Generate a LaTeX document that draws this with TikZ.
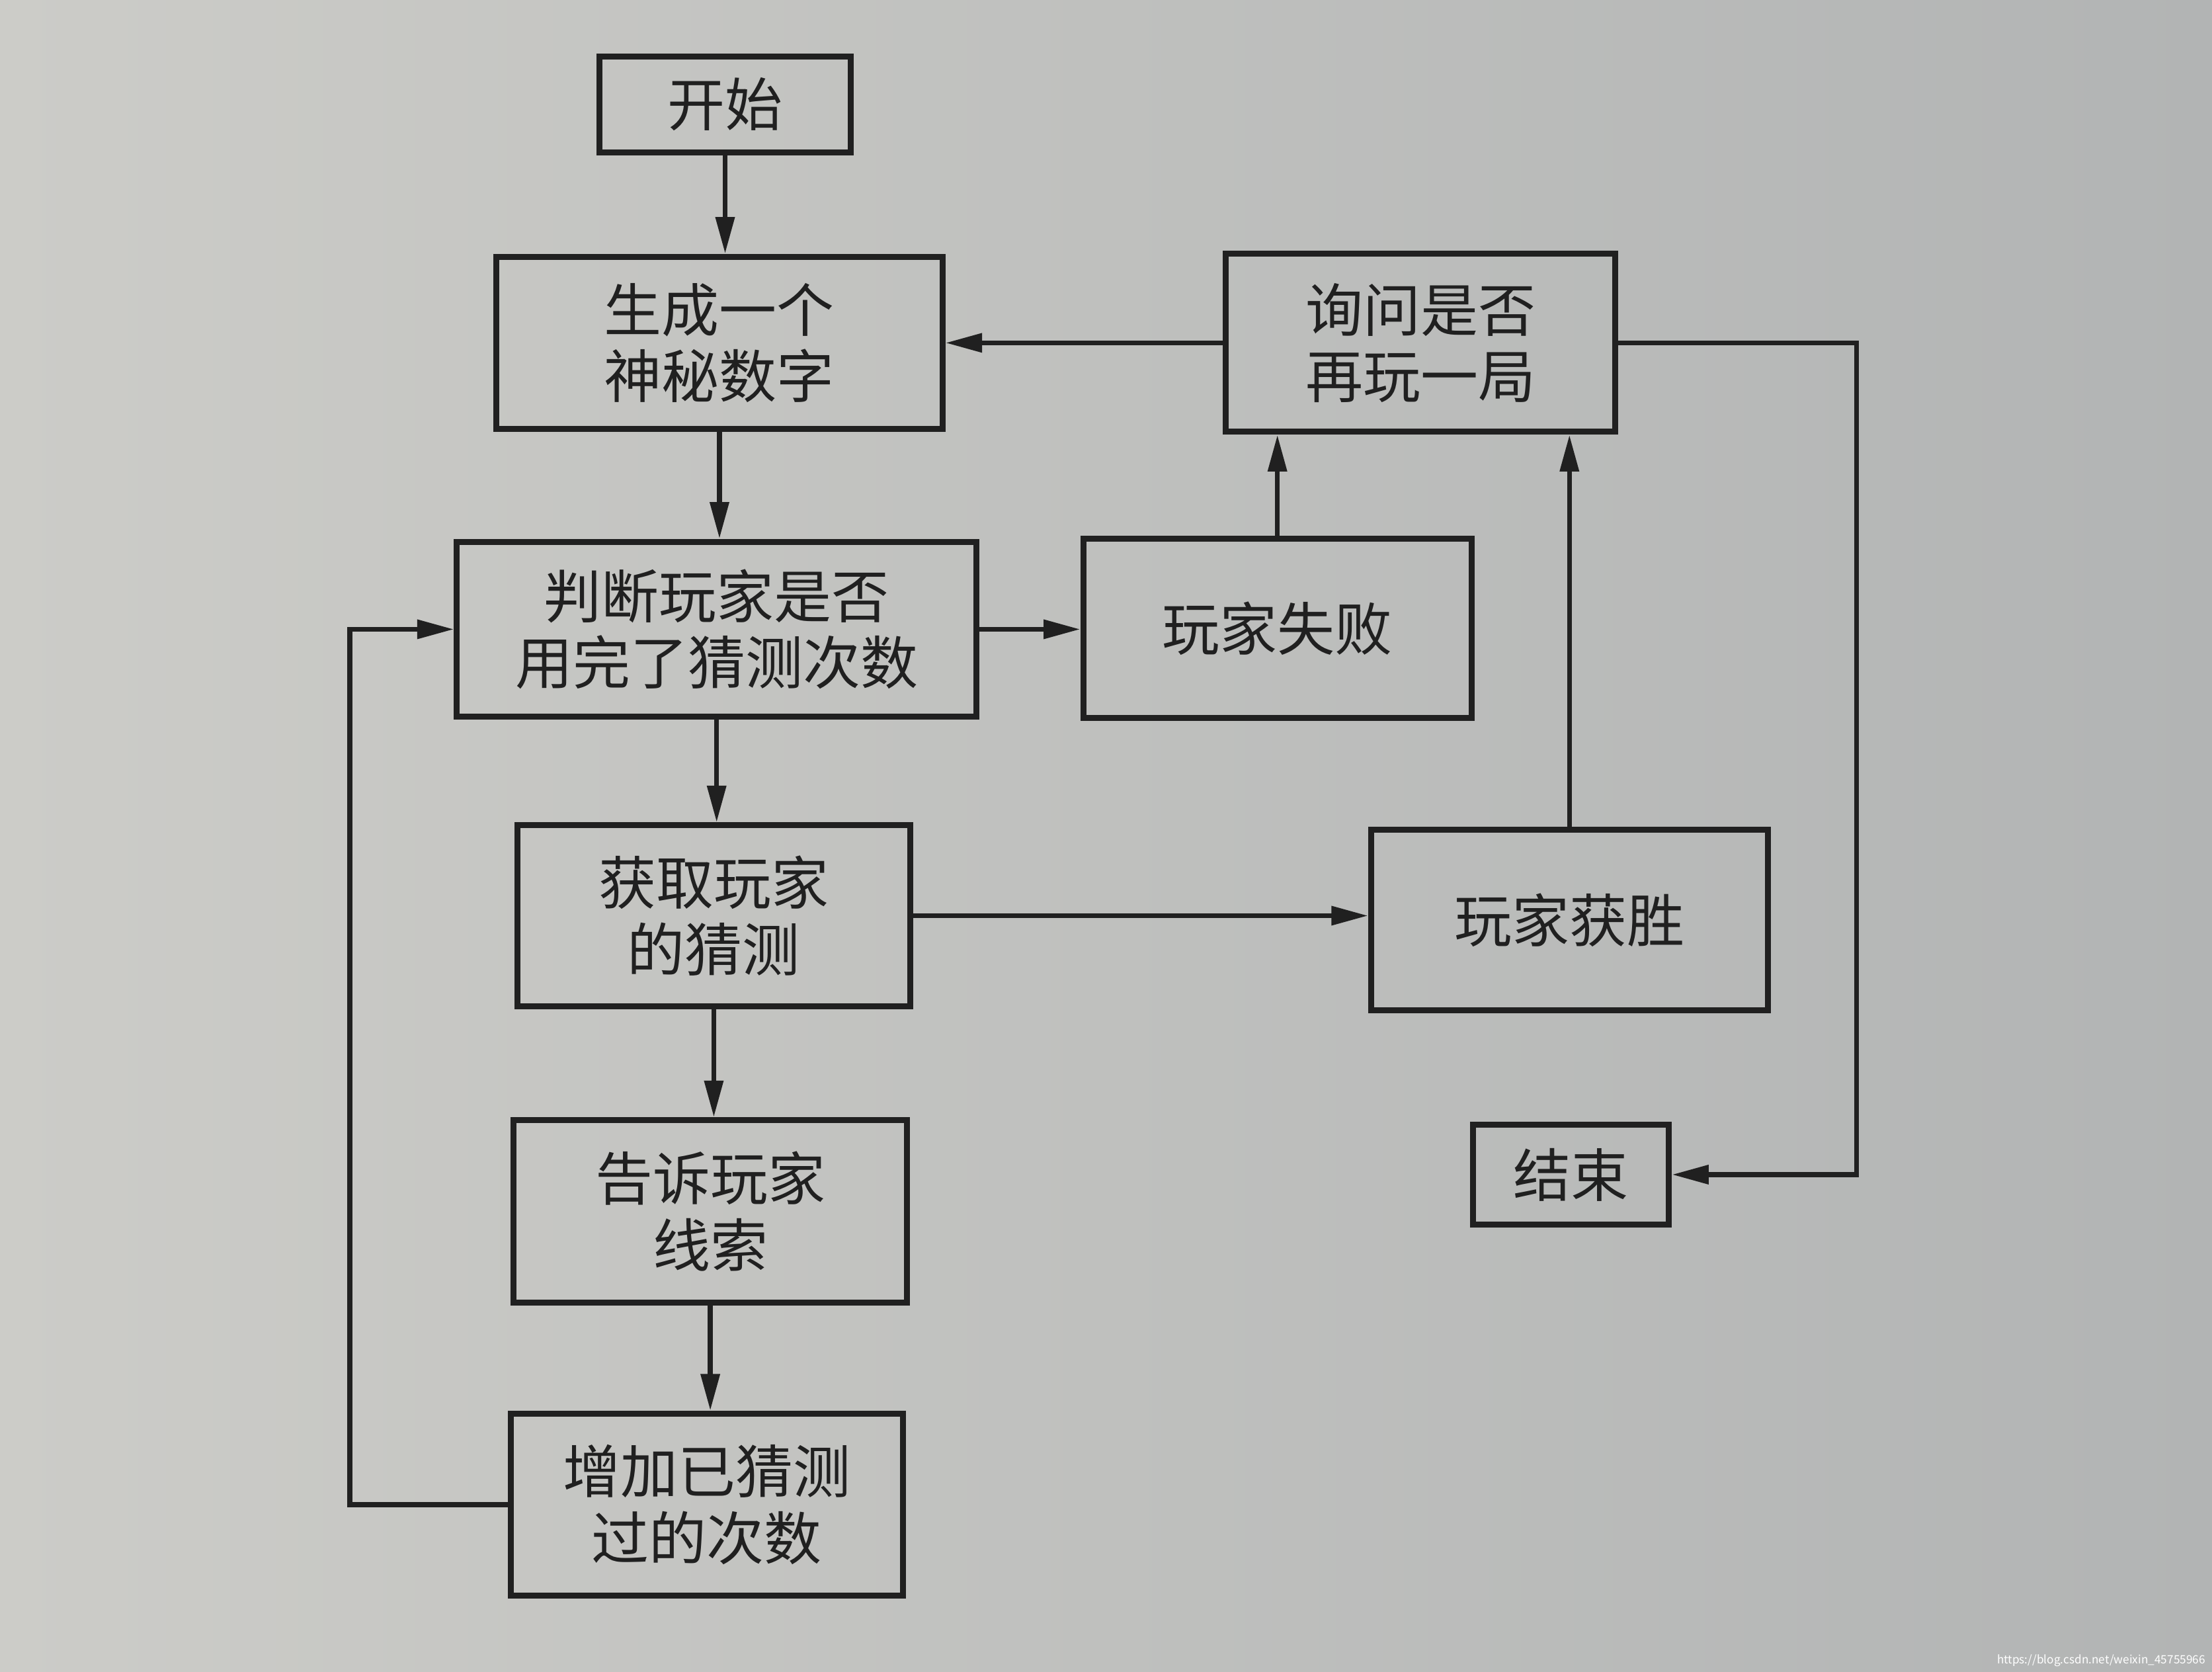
\documentclass[tikz,border=0pt]{standalone}
\usepackage{fontspec}
\setmainfont{Noto Sans CJK SC}
\usepackage{xcolor}
\usetikzlibrary{arrows.meta}

\definecolor{paperlt}{RGB}{204,204,200}
\definecolor{paperdk}{RGB}{178,180,180}
\definecolor{ink}{RGB}{32,32,32}

\begin{document}
\begin{tikzpicture}[x=0.01cm, y=-0.01cm,
  box/.style={draw=ink, line width=1.2pt, inner sep=0pt, align=center,
    font=\fontsize{11.6}{13.4}\selectfont, text=ink},
  arr/.style={draw=ink, line width=1pt, ->},
  >={Triangle[length=2.6mm, width=1.3mm]}]

% Paper
\shade[left color=paperlt, right color=paperdk] (0,0) rectangle (1568,1185);

% Main column
\node[box, minimum width=1.78cm, minimum height=0.68cm] (start) at (514,74) {开始};
\node[box, minimum width=3.16cm, minimum height=1.22cm] (gen) at (510,243) {生成一个\\神秘数字};
\node[box, minimum width=3.68cm, minimum height=1.24cm] (judge) at (508,446) {判断玩家是否\\用完了猜测次数};
\node[box, minimum width=2.78cm, minimum height=1.28cm] (getg) at (506,649) {获取玩家\\的猜测};
\node[box, minimum width=2.79cm, minimum height=1.29cm] (tell) at (503.5,858.5) {告诉玩家\\线索};
\node[box, minimum width=2.78cm, minimum height=1.29cm] (incr) at (501,1066.5) {增加已猜测\\过的次数};

% Right side
\node[box, minimum width=2.76cm, minimum height=1.26cm] (ask) at (1007,243) {询问是否\\再玩一局};
\node[box, minimum width=2.75cm, minimum height=1.27cm] (lose) at (905.5,445.5) {玩家失败};
\node[box, minimum width=2.81cm, minimum height=1.28cm] (win) at (1112.5,652) {玩家获胜};
\node[box, minimum width=1.39cm, minimum height=0.71cm] (end) at (1113.5,832.5) {结束};

% Bend points
\coordinate (lft) at (248,446);
\coordinate (rgt) at (1316,540);

% Down the main column
\foreach \a/\b in {start/gen, gen/judge, judge/getg, getg/tell, tell/incr} {
  \draw[arr] (\a.south) -- (\a.south |- \b.north);
}

% Loop back
\draw[arr] (incr.west) -| (lft) -- (judge.west);

% Lose / win
\draw[arr] (judge.east) -- (judge.east -| lose.west);
\draw[arr] (getg.east) -- (getg.east -| win.west);
\draw[arr] (lose.north) -- (lose.north |- ask.south);
\draw[arr] (win.north) -- (win.north |- ask.south);

% Play again or end
\draw[arr] (ask.west) -- (ask.west -| gen.east);
\draw[arr] (ask.east) -| (rgt) |- (end.east);

% Watermark
\node[anchor=south east, inner sep=0pt, text=white, font=\fontsize{2.3}{2.6}\selectfont]
  (wm) at (1564,1182) {https://blog.csdn.net/weixin\_45755966};

\end{tikzpicture}
\end{document}
